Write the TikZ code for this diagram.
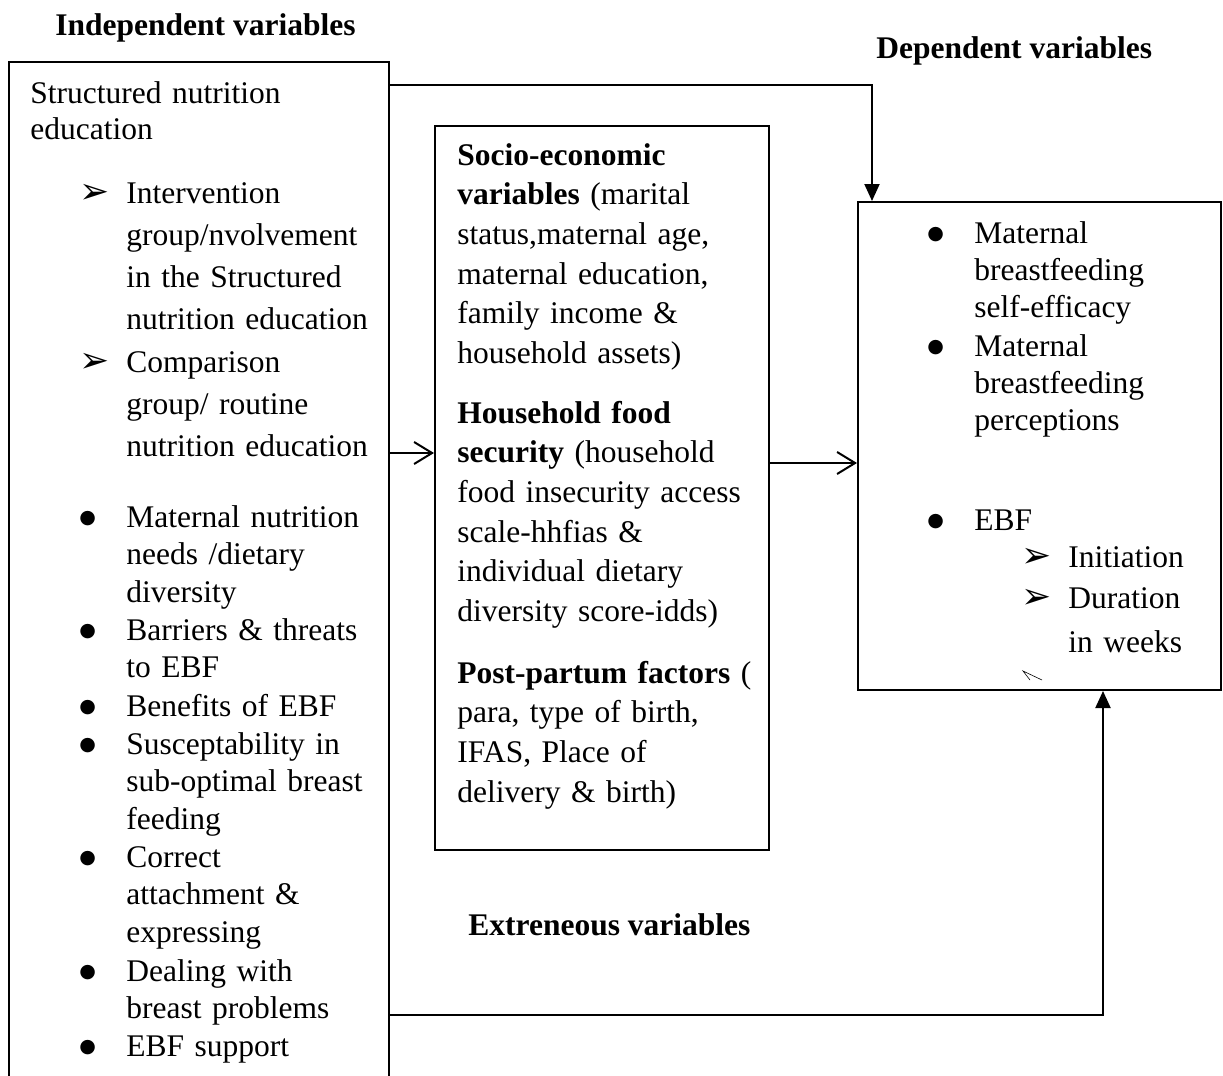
\documentclass[tikz,border=0pt]{standalone}
\usepackage{fontspec}
\setmainfont{Liberation Serif}
\newfontfamily\dingfont{DejaVu Sans}
\usetikzlibrary{arrows.meta}
\tikzstyle{box} = [rectangle, draw, line width=1pt, inner sep=0pt]
\tikzstyle{txt} = [anchor=base west, inner sep=0pt, align=left, text width=165pt]
\tikzstyle{head} = [anchor=base west, inner sep=0pt, font=\fontsize{15.75pt}{18.9pt}\selectfont\bfseries]
\tikzstyle{bul} = [anchor=base west, inner sep=0pt]
\tikzstyle{wide} = [font=\fontsize{15.75pt}{21.15pt}\selectfont]
\tikzstyle{line} = [draw, line width=1pt]
\tikzstyle{fullarrow} = [line, -{Triangle[length=8.5pt, width=7.5pt]}]
\tikzstyle{openarrow} = [line, -{Straight Barb[length=9pt, width=11pt]}]
\newcommand{\arrowbul}{{\dingfont\fontsize{18pt}{18pt}\selectfont ➢}}
\newcommand{\dotbul}{\raisebox{1.6pt}{\dingfont\fontsize{9.5pt}{9.5pt}\selectfont ●}}

\begin{document}
\begin{tikzpicture}[x=0.5pt, y=-0.5pt, font=\fontsize{15.75pt}{18.9pt}\selectfont]
    \useasboundingbox (0,0) rectangle (1223,1076);

    % boxes
    \node [box, minimum width=190pt, minimum height=530pt] (indep) at (199,592) {};
    \node [box, minimum width=167pt, minimum height=362pt] (extran) at (602,488) {};
    \node [box, minimum width=181.5pt, minimum height=244pt] (dep) at (1039.5,446) {};

    % headings
    \node [head] (indephead) at (55,35) {Independent variables};
    \node [head] (dephead) at (876,58) {Dependent variables};
    \node [head] (extranhead) at (468,935) {Extreneous variables};

    % independent variables
    \node [txt, font=\fontsize{15.75pt}{18.5pt}\selectfont] (sne) at (30,103) {Structured nutrition\\education};
    \node [bul] (b1) at (79,203) {\arrowbul};
    \node [txt, wide] (t1) at (126,203) {Intervention\\group/nvolvement\\in the Structured\\nutrition education};
    \node [bul] (b2) at (79,372) {\arrowbul};
    \node [txt, wide] (t2) at (126,372) {Comparison\\group/ routine\\nutrition education};
    \node [bul] (b3) at (79,527) {\dotbul};
    \node [txt] (t3) at (126,527) {Maternal nutrition\\needs /dietary\\diversity};
    \node [bul] (b4) at (79,640) {\dotbul};
    \node [txt] (t4) at (126,640) {Barriers \& threats\\to EBF};
    \node [bul] (b5) at (79,716) {\dotbul};
    \node [txt] (t5) at (126,716) {Benefits of EBF};
    \node [bul] (b6) at (79,754) {\dotbul};
    \node [txt] (t6) at (126,754) {Susceptability in\\sub-optimal breast\\feeding};
    \node [bul] (b7) at (79,867) {\dotbul};
    \node [txt] (t7) at (126,867) {Correct\\attachment \&\\expressing};
    \node [bul] (b8) at (79,981) {\dotbul};
    \node [txt] (t8) at (126,981) {Dealing with\\breast problems};
    \node [bul] (b9) at (79,1056) {\dotbul};
    \node [txt] (t9) at (126,1056) {EBF support};

    % extraneous variables
    \node [txt, font=\fontsize{15.75pt}{19.85pt}\selectfont] (socio) at (457,165) {\textbf{Socio-economic}\\\textbf{variables} (marital\\status,maternal age,\\maternal education,\\family income \&\\household assets)};
    \node [txt, font=\fontsize{15.75pt}{19.85pt}\selectfont] (food) at (457,423) {\textbf{Household food}\\\textbf{security} (household\\food insecurity access\\scale-hhfias \&\\individual dietary\\diversity score-idds)};
    \node [txt, font=\fontsize{15.75pt}{19.85pt}\selectfont] (post) at (457,683) {\textbf{Post-partum factors} (\\para, type of birth,\\IFAS, Place of\\delivery \& birth)};

    % dependent variables
    \node [bul] (d1) at (927,243) {\dotbul};
    \node [txt, font=\fontsize{15.75pt}{18.7pt}\selectfont] (efficacy) at (974,243) {Maternal\\breastfeeding\\self-efficacy};
    \node [bul] (d2) at (927,356) {\dotbul};
    \node [txt, font=\fontsize{15.75pt}{18.7pt}\selectfont] (percept) at (974,356) {Maternal\\breastfeeding\\perceptions};
    \node [bul] (d3) at (927,530) {\dotbul};
    \node [txt] (ebf) at (974,530) {EBF};
    \node [bul] (d4) at (1021,567) {\arrowbul};
    \node [txt] (init) at (1068,567) {Initiation};
    \node [bul] (d5) at (1021,608) {\arrowbul};
    \node [txt, font=\fontsize{15.75pt}{22pt}\selectfont] (durat) at (1068,608) {Duration\\in weeks};
    \draw [line width=0.3pt] (1042,680) -- (1023,671) -- (1030,680);

    % connectors
    \path [fullarrow] ([yshift=-12pt]indep.north east) -| (dep.north -| 872,0);
    \path [openarrow] (indep.east |- 0,453) -- (extran.west |- 0,453);
    \path [openarrow] (extran.east |- 0,463) -- (dep.west |- 0,463);
    \path [fullarrow] (indep.east |- 0,1015) -| (dep.south -| 1103,0);
\end{tikzpicture}
\end{document}
